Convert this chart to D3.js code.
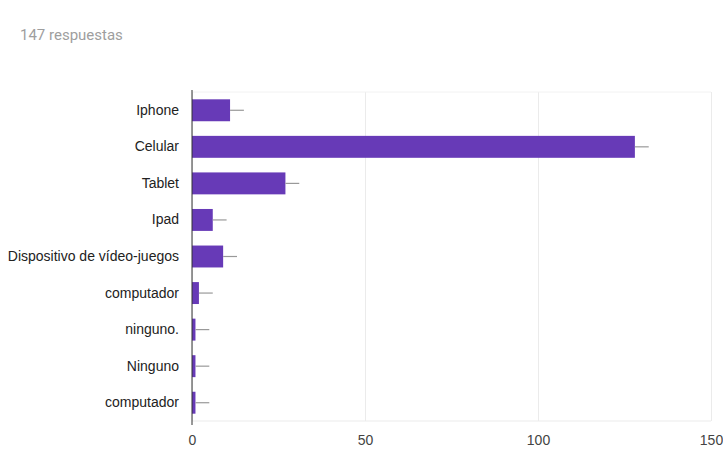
<!DOCTYPE html>
<html>
<head>
<meta charset="utf-8">
<script src="https://cdn.jsdelivr.net/npm/d3@7"></script>
<style>
  body { margin: 0; background: #fff; }
  svg { display: block; }
</style>
</head>
<body>
<div id="chart"></div>
<script>
const categories = ["Iphone", "Celular", "Tablet", "Ipad", "Dispositivo de vídeo-juegos", "computador", "ninguno.", "Ninguno", "computador "];
const counts = [11, 128, 27, 6, 9, 2, 1, 1, 1];
const errors = [4, 4, 4, 4, 4, 4, 4, 4, 4];
const xTicks = [0, 50, 100, 150];

const width = 723, height = 454;
const margin = { top: 92, right: 12, bottom: 33, left: 192 };
const innerWidth = width - margin.left - margin.right;
const innerHeight = height - margin.top - margin.bottom;

const data = categories.map((c, i) => ({ key: c, value: counts[i], err: errors[i] }));

const svg = d3.select("#chart").append("svg")
    .attr("width", width)
    .attr("height", height);

svg.append("text")
    .attr("x", 20)
    .attr("y", 40)
    .style("font-family", "Roboto, sans-serif")
    .style("font-size", "15px")
    .style("fill", "#9e9e9e")
    .text("147 respuestas");

const xScale = d3.scaleLinear().domain([0, 150]).range([0, innerWidth]);
const yScale = d3.scaleBand().domain(categories).range([0, innerHeight]).paddingInner(0.4).paddingOuter(0.2);

const g = svg.append("g").attr("transform", `translate(${margin.left}, ${margin.top})`);

// grid
g.append("g")
    .call(d3.axisBottom(xScale).tickValues(xTicks).tickSize(innerHeight).tickFormat(""))
    .call(s => s.select(".domain").remove())
    .call(s => s.selectAll(".tick text").remove())
    .call(s => s.selectAll(".tick line").attr("stroke", "#ebebeb"));

g.append("line")
    .attr("x1", 0).attr("x2", innerWidth)
    .attr("y1", 0).attr("y2", 0)
    .attr("stroke", "#f2f2f2");
g.append("line")
    .attr("x1", 0).attr("x2", innerWidth)
    .attr("y1", innerHeight).attr("y2", innerHeight)
    .attr("stroke", "#ebebeb");

// bars
g.selectAll(".bar")
    .data(data)
    .join("rect")
    .attr("class", "bar")
    .attr("x", 0)
    .attr("y", d => yScale(d.key))
    .attr("width", d => xScale(d.value))
    .attr("height", yScale.bandwidth())
    .attr("fill", "#673ab7");

// whiskers
g.selectAll(".whisker")
    .data(data)
    .join("line")
    .attr("class", "whisker")
    .attr("x1", d => xScale(d.value))
    .attr("x2", d => xScale(d.value + d.err))
    .attr("y1", d => yScale(d.key) + yScale.bandwidth() / 2)
    .attr("y2", d => yScale(d.key) + yScale.bandwidth() / 2)
    .attr("stroke", "#999")
    .attr("stroke-width", 1.2);

// y axis
g.append("g")
    .call(d3.axisLeft(yScale).tickSize(0).tickPadding(13))
    .call(s => s.select(".domain").attr("stroke", "#333").attr("d", `M0,-2V${innerHeight + 4}`))
    .call(s => s.selectAll(".tick text")
        .style("font-family", "'Liberation Sans', Arial, sans-serif")
        .style("font-size", "14px")
        .style("fill", "#222"));

// x axis labels
g.append("g")
    .attr("transform", `translate(0, ${innerHeight})`)
    .call(d3.axisBottom(xScale).tickValues(xTicks).tickSize(0).tickPadding(14))
    .call(s => s.select(".domain").remove())
    .call(s => s.selectAll(".tick text")
        .style("font-family", "'Liberation Sans', Arial, sans-serif")
        .style("font-size", "14px")
        .style("fill", "#444"));
</script>
</body>
</html>
